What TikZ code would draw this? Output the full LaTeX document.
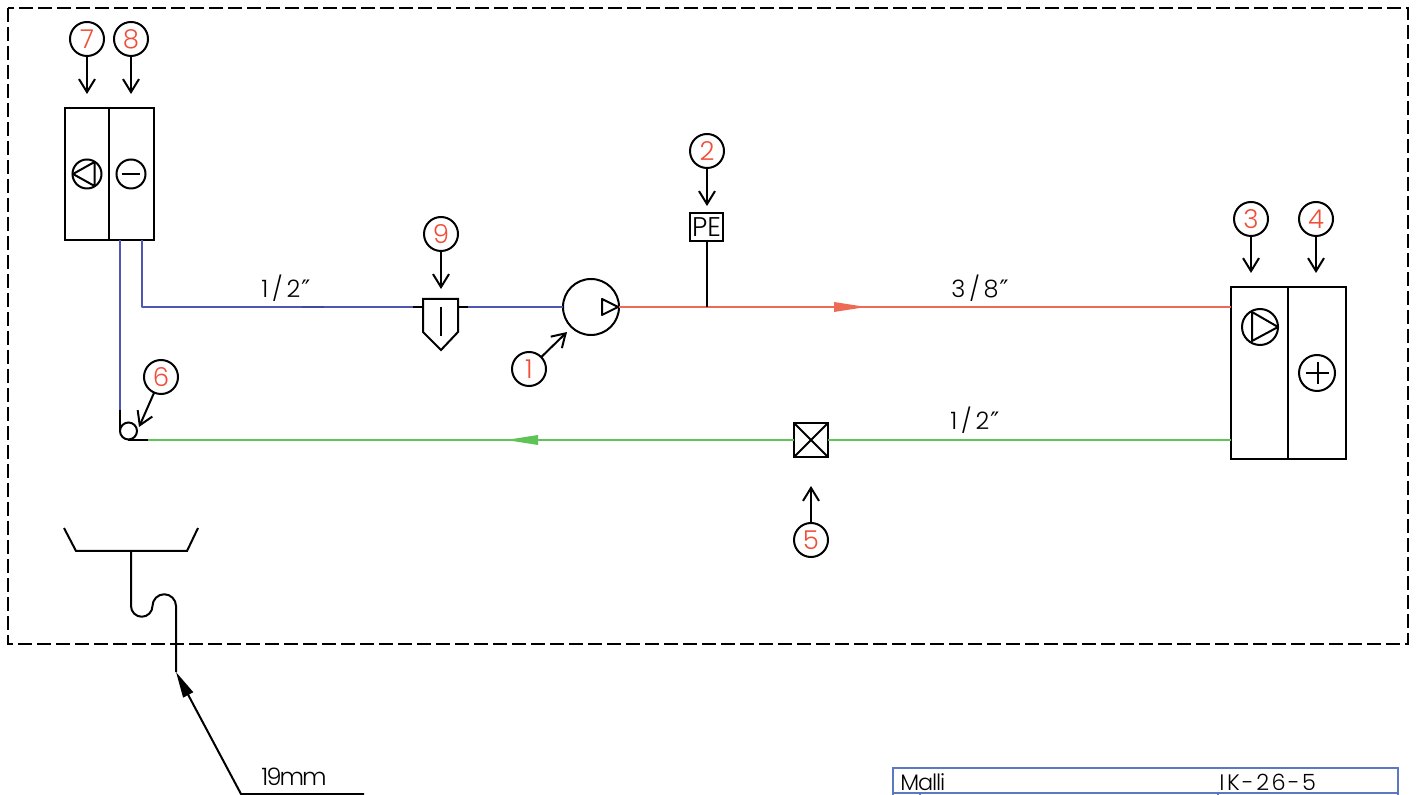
\documentclass[tikz,border=0pt]{standalone}
\usepackage{fontspec}
\setmainfont{Poppins}[UprightFont=*-Light]
\newfontfamily\primefont{DejaVu Sans}
\usetikzlibrary{arrows.meta,calc}
\definecolor{redpipe}{HTML}{EE6A55}
\definecolor{bluepipe}{HTML}{4F58B0}
\definecolor{darkblue}{HTML}{4048A0}
\definecolor{greenpipe}{HTML}{5FC356}
\definecolor{titleblue}{HTML}{5B78C0}
\definecolor{numred}{HTML}{F04E37}
\newcommand{\dprime}{\kern0.5pt{\primefont\fontsize{12}{12}\selectfont ″}}
\tikzset{
  x=0.5pt,y=-0.5pt,
  ln/.style={line width=1pt,black},
  pipe/.style={line width=1pt},
  callout/.style={circle,draw,line width=1pt,minimum size=17pt,inner sep=0pt,outer sep=0pt,text=numred,font=\fontsize{13}{13}\selectfont},
  barb/.style={ln,-{Straight Barb[length=6.5pt,width=8pt,line width=1pt]}},
  unitbox/.style={rectangle,draw,line width=1pt,inner sep=0pt,outer sep=0pt},
  sym/.style={circle,draw,line width=1pt,inner sep=0pt,outer sep=0pt},
  lbl/.style={inner sep=0pt,anchor=base west,font=\fontsize{12}{12}\selectfont\addfontfeature{LetterSpace=16}},
  dimlbl/.style={inner sep=0pt,anchor=base west,font=\fontsize{12}{12}\selectfont\addfontfeature{LetterSpace=-8}},
  ttl/.style={inner sep=0pt,anchor=base west,font=\fontsize{11.2}{11.2}\selectfont},
}
\begin{document}
\begin{tikzpicture}
\useasboundingbox (0,0) rectangle (1417,795);
% frame
\draw[line width=1pt,dash pattern=on 7pt off 2.5pt] (8,8) rectangle (1408,644);

% units
\node[unitbox,minimum width=22pt,minimum height=66pt] (u7) at (87,174) {};
\node[unitbox,minimum width=22.5pt,minimum height=66pt] (u8) at (131.5,174) {};
\node[sym,minimum size=14.5pt] (s7) at (87,174) {};
\node[sym,minimum size=14.5pt] (s8) at (131,174) {};
\draw[ln,line join=round] (73,174) -- (94.5,162) -- (94.5,186) -- cycle;
\draw[ln] (122,174) -- (140,174);

\node[unitbox,minimum width=28.5pt,minimum height=86pt] (u3) at (1259.5,373) {};
\node[unitbox,minimum width=29pt,minimum height=86pt] (u4) at (1317,373) {};
\node[sym,minimum size=18pt] (s3) at (1260,327) {};
\node[sym,minimum size=18pt] (s4) at (1317,373) {};
\draw[ln,line join=round] (1252,312) -- (1278,327) -- (1252,341) -- cycle;
\draw[ln] (1306,373) -- (1329,373) (1317.5,362) -- (1317.5,384);

% pump
\node[sym,minimum size=28pt] (pump) at (591,307) {};
\draw[ln,line join=round] (602,299) -- (602,315) -- (618,307) -- cycle;

% PE
\node[unitbox,minimum width=16.5pt,minimum height=14pt,font=\fontsize{13.5}{13.5}\selectfont] (pe) at (706.5,227) {PE};

% strainer
\coordinate (fL) at (423,307);
\coordinate (fR) at (458,307);
\draw[ln,line join=miter] (423,299) -- (458,299) -- (458,332) -- (441,350) -- (423,332) -- cycle;
\draw[ln] (441,307) -- (441,336);

% valve
\node[unitbox,minimum width=17pt,minimum height=17pt] (valve) at (811,440) {};
\draw[ln] (valve.north west) -- (valve.south east) (valve.north east) -- (valve.south west);

% pipes
\coordinate (bA) at (142,240);
\coordinate (bB) at (142,307);
\coordinate (bC) at (120,240);
\coordinate (bD) at (120,410);
\coordinate (fLs) at (413,307);
\coordinate (fRs) at (468,307);
\draw[pipe,bluepipe,line join=round] (bA) -- (bB) -- (fLs);
\draw[pipe,darkblue] (302,307) -- (324,307);
\draw[ln] (fLs) -- (fL) (fR) -- (fRs);
\draw[pipe,bluepipe] (fRs) -- (pump.west);
\draw[pipe,bluepipe] (bC) -- (bD);

\coordinate (pejoin) at (706.5,307);
\draw[pipe,redpipe] (pump.east) -- (u3.west |- pump);
\fill[redpipe] (834,302) -- (866,307) -- (834,312) -- cycle;
\draw[ln] (pe.south) -- (pejoin);

\coordinate (gend) at (148,440);
\draw[pipe,greenpipe] (u3.west |- valve) -- (valve.east);
\draw[pipe,greenpipe] (valve.west) -- (gend);
\fill[greenpipe] (538,435) -- (506,440) -- (538,445) -- cycle;

% drain point
\node[sym,minimum size=8.5pt] (s6) at (128.5,431) {};
\draw[ln] (bD) -- (120,431);
\draw[ln] (128,440) -- (gend);

% callouts
\node[callout] (c7) at (87,39) {7};
\node[callout] (c8) at (131,39) {8};
\node[callout] (c2) at (707,151) {2};
\node[callout] (c9) at (441,234) {9};
\node[callout] (c1) at (529,369) {1};
\node[callout] (c3) at (1251,219) {3};
\node[callout] (c4) at (1316,219) {4};
\node[callout] (c5) at (811,540) {5};
\node[callout] (c6) at (161,377) {6};
\coordinate (a7) at (87,94);
\coordinate (a8) at (131,94);
\coordinate (a2) at (707,206);
\coordinate (a9) at (441,289);
\coordinate (a1) at (567,332);
\coordinate (a3) at (1251,273);
\coordinate (a4) at (1316,273);
\coordinate (a5) at (811,486);
\coordinate (a6) at (139,427);
\foreach \c/\a in {c7/a7,c8/a8,c2/a2,c9/a9,c1/a1,c3/a3,c4/a4,c5/a5,c6/a6}
  \draw[barb] (\c) -- (\a);

% sink and trap
\coordinate (tr1) at (64,528);
\coordinate (tr2) at (76,551);
\coordinate (tr3) at (187,551);
\coordinate (tr4) at (198,528);
\coordinate (trs) at (131,551);
\coordinate (trtip) at (176,672);
\coordinate (ldr1) at (241,794);
\coordinate (ldr2) at (364,794);
\draw[ln,line join=miter] (tr1) -- (tr2) -- (tr3) -- (tr4);
\draw[ln,line join=round] (trs) -- (131,606) arc[start angle=180,end angle=0,radius=10.75]
  arc[start angle=180,end angle=360,radius=11.75] -- (trtip);
\draw[ln,{Triangle[length=13pt,width=5.5pt]}-] (trtip) -- (ldr1) -- (ldr2);

% labels
\node[lbl] (l1) at (261,298) {1/2\dprime};
\node[lbl] (l2) at (951,298) {3/8\dprime};
\node[lbl] (l3) at (950,430) {1/2\dprime};
\node[dimlbl] (l4) at (261,785) {19mm};

% title
\node[rectangle,draw=titleblue,line width=1pt,inner sep=0pt,outer sep=0pt,minimum width=252.5pt,minimum height=12.5pt] (tb) at (1145.5,780.5) {};
\draw[titleblue,line width=1pt] (920,793) -- (920,796) (1218,793) -- (1218,796) (893,793) -- (893,796) (1398,793) -- (1398,796);
\node[ttl,font=\fontsize{11.2}{11.2}\selectfont\addfontfeature{LetterSpace=-5}] (t1) at (900,790) {Malli};
\node[ttl,font=\fontsize{11.2}{11.2}\selectfont\addfontfeature{LetterSpace=11}] (t2) at (1219,790) {IK-26-5};
\end{tikzpicture}
\end{document}
